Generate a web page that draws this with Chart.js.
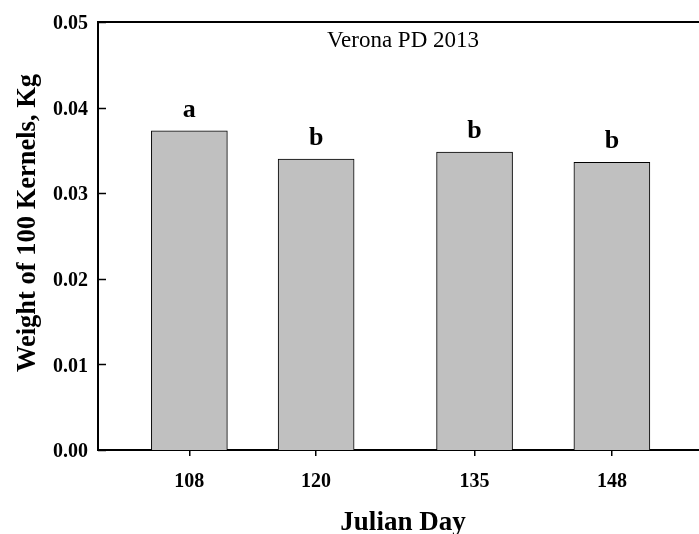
<!DOCTYPE html>
<html>
<head>
<meta charset="utf-8">
<title>Verona PD 2013</title>
<script src="https://cdn.jsdelivr.net/npm/chart.js@4.4.1/dist/chart.umd.min.js"></script>
<style>
  html, body { margin: 0; padding: 0; background: #fff; overflow: hidden; }
  #wrap { width: 709px; height: 534px; position: relative; }
</style>
</head>
<body>
<div id="wrap"><canvas id="myChart"></canvas></div>
<script>
// kernel weight per planting date
const days = [108, 120, 135, 148];
const weights = [0.0373, 0.0340, 0.0348, 0.0336];
const groups = ['a', 'b', 'b', 'b'];
const yTicks = [0, 0.01, 0.02, 0.03, 0.04, 0.05];

const chartTitle = 'Verona PD 2013';
const xTitle = 'Julian Day';
const yTitle = 'Weight of 100 Kernels, Kg';

const SERIF = '"Liberation Serif", "Times New Roman", serif';

/**
 * frame, inward y ticks, letters over bars, titles
 */
const decorations = {
  id: 'decorations',
  afterDatasetsDraw(chart) {
    const { ctx, chartArea: area, scales } = chart;
    ctx.save();
    ctx.strokeStyle = '#000';

    // top line of the frame
    ctx.lineWidth = 2;
    ctx.beginPath();
    ctx.moveTo(area.left, area.top);
    ctx.lineTo(area.right, area.top);
    ctx.stroke();

    // y ticks point into the plot
    ctx.lineWidth = 1.5;
    yTicks.forEach(v => {
      const py = Math.round(scales.y.getPixelForValue(v)) + 0.5;
      ctx.beginPath();
      ctx.moveTo(area.left, py);
      ctx.lineTo(area.left + 8, py);
      ctx.stroke();
    });

    // significance letters
    ctx.fillStyle = '#000';
    ctx.textAlign = 'center';
    ctx.textBaseline = 'alphabetic';
    ctx.font = 'bold 26px ' + SERIF;
    chart.getDatasetMeta(0).data.forEach((bar, i) => {
      ctx.fillText(groups[i], bar.x, bar.y - 14);
    });

    const cx = (area.left + area.right) / 2;
    ctx.font = '23px ' + SERIF;
    ctx.fillText(chartTitle, cx, 47);

    ctx.font = 'bold 27px ' + SERIF;
    ctx.fillText(xTitle, cx, 530);

    ctx.font = 'bold 26.5px ' + SERIF;
    ctx.translate(35, 223);
    ctx.rotate(-Math.PI / 2);
    ctx.fillText(yTitle, 0, 0);
    ctx.restore();
  }
};

const data = {
  datasets: [
    {
      label: chartTitle,
      data: days.map((d, i) => ({ x: d, y: weights[i] })),
      backgroundColor: '#c0c0c0',
      borderColor: '#000',
      borderWidth: 1,
      borderSkipped: 'bottom',
      barThickness: 76,
    },
  ],
};

const config = {
  type: 'bar',
  data: data,
  options: {
    responsive: true,
    maintainAspectRatio: false,
    animation: false,
    devicePixelRatio: 1,
    layout: { padding: { top: 21, right: 1, left: 0, bottom: 0 } },
    plugins: {
      legend: { display: false },
      tooltip: { enabled: false },
    },
    scales: {
      x: {
        type: 'linear',
        min: 99.35,
        max: 157.1,
        offset: false,
        afterBuildTicks: s => { s.ticks = days.map(v => ({ value: v })); },
        afterFit: s => { s.height = 84; },
        ticks: {
          color: '#000',
          padding: 14,
          maxRotation: 0,
          font: { family: SERIF, size: 20, weight: 'bold' },
          callback: v => String(v),
        },
        grid: {
          offset: false,
          drawOnChartArea: false,
          drawTicks: true,
          tickLength: 6,
          color: '#000',
          lineWidth: 1.5,
        },
        border: { color: '#000', width: 2 },
      },
      y: {
        min: 0,
        max: 0.05,
        afterBuildTicks: s => { s.ticks = yTicks.map(v => ({ value: v })); },
        afterFit: s => { s.width = 98; },
        ticks: {
          color: '#000',
          padding: 10,
          labelOffset: 2,
          font: { family: SERIF, size: 20, weight: 'bold' },
          callback: v => Number(v).toFixed(2),
        },
        grid: { display: false, drawTicks: false },
        border: { color: '#000', width: 2 },
      },
    },
  },
  plugins: [decorations],
};

const myChart = new Chart(document.getElementById('myChart'), config);
</script>
</body>
</html>
